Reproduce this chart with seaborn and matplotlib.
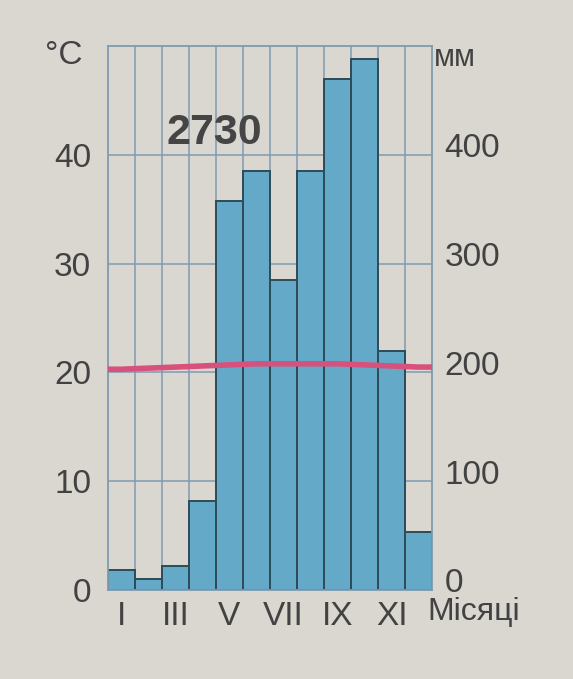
import numpy as np
import pandas as pd
import seaborn as sns
import matplotlib.pyplot as plt
import matplotlib.transforms as mtransforms

# climate diagram: monthly precipitation (bars) and temperature (line)
months = ['I', 'II', 'III', 'IV', 'V', 'VI', 'VII', 'VIII', 'IX', 'X', 'XI', 'XII']
precip_mm = [18, 10, 22, 82, 358, 385, 285, 385, 470, 488, 220, 53]
temp_c = [20.3, 20.4, 20.5, 20.6, 20.7, 20.8, 20.8, 20.8, 20.8, 20.7, 20.6, 20.5]
annual_total = '2730'
shown_months = ['I', 'III', 'V', 'VII', 'IX', 'XI']
temp_ticks = [0, 10, 20, 30, 40]
precip_ticks = [0, 100, 200, 300, 400]

sns.set_theme(style='white')
plt.rcParams['font.family'] = ['Liberation Sans', 'DejaVu Sans']

bg = '#d9d7d0'
grid_c = '#7f9cb0'
text_c = '#424242'

df = pd.DataFrame({'month': months, 'precip': precip_mm, 'temp': temp_c})

fig = plt.figure(figsize=(5.73, 6.79), dpi=100, facecolor=bg)
ax = fig.add_axes([0.188, 0.131, 0.566, 0.801], facecolor=bg)

sns.barplot(data=df, x='month', y='precip', order=months, ax=ax, width=1.0,
            color='#64a9c8', saturation=1, edgecolor='#2d4b58', linewidth=1.4)
ax.set_ylim(0, 500)
ax.set_xlim(-0.5, len(months) - 0.5)
ax.set_axisbelow(True)

# grid on month boundaries and every 10 degC / 100 mm
for k in range(1, len(months)):
    ax.axvline(k - 0.5, color=grid_c, lw=1.1, zorder=0)
for v in precip_ticks[1:]:
    ax.axhline(v, color=grid_c, lw=1.1, zorder=0)

ax2 = ax.twinx()
xs = np.concatenate([[-0.5], np.arange(len(months)), [len(months) - 0.5]])
ys = np.concatenate([[temp_c[0]], temp_c, [temp_c[-1]]])
sns.lineplot(x=xs, y=ys, ax=ax2, color='#d8507c', lw=4, sort=False)
ax2.set_ylim(0, 50)

# mm on the right, degC on the left
ax.yaxis.tick_right()
ax2.yaxis.tick_left()

ax.set_yticks(precip_ticks)
ax.set_yticklabels([str(v) for v in precip_ticks])
idx = [months.index(m) for m in shown_months]
ax.set_xticks(idx)
ax.set_xticklabels(shown_months)
ax.tick_params(axis='both', length=0, labelsize=24, colors=text_c, pad=8)
ax.tick_params(axis='y', pad=9)
ax.set_xlabel('')
ax.set_ylabel('')
for s in ax.spines.values():
    s.set_color(grid_c)
    s.set_linewidth(1.3)

# right labels sit a little higher in the original
shift = mtransforms.ScaledTranslation(0, 7 / 72, fig.dpi_scale_trans)
for t in ax.yaxis.get_major_ticks():
    t.label2.set_transform(t.label2.get_transform() + shift)

ax2.set_yticks(temp_ticks)
ax2.set_yticklabels([str(v) for v in temp_ticks])
ax2.tick_params(axis='y', length=0, labelsize=24, colors=text_c, pad=12)
ax2.set_ylabel('')
for s in ax2.spines.values():
    s.set_visible(False)

fig.text(0.078, 0.918, '°C', fontsize=24, color=text_c, va='center', ha='left')
fig.text(0.758, 0.914, 'мм', fontsize=22, color=text_c, va='center', ha='left')
fig.text(0.745, 0.099, 'Місяці', fontsize=23, color=text_c, va='center', ha='left')
ax.text(0.33, 0.84, annual_total, transform=ax.transAxes, fontsize=31,
        fontweight='bold', color='#454545', ha='center', va='center')

fig.savefig('out.png', dpi=100, facecolor=bg)
